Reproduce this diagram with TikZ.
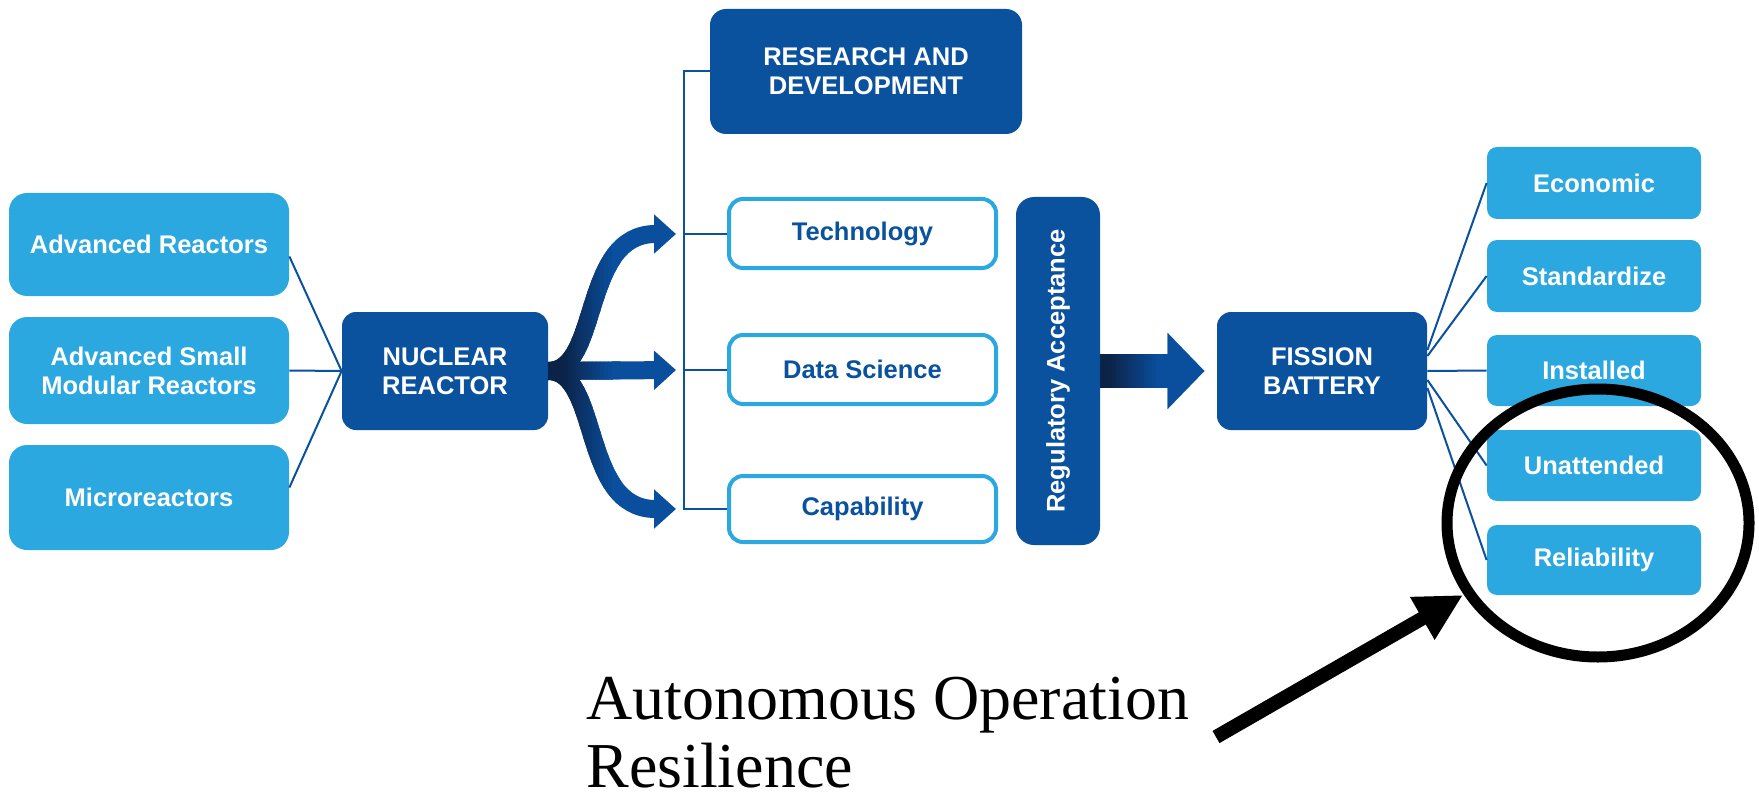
\documentclass[tikz,border=0pt]{standalone}
\usepackage{fontspec}
\setmainfont{Liberation Serif}
\newfontfamily\arialf{Liberation Sans}
\usetikzlibrary{arrows.meta,calc}
\definecolor{lb}{HTML}{2CA8E0}
\definecolor{db}{HTML}{0A519E}
\definecolor{nv}{HTML}{0B2347}
\definecolor{ab}{HTML}{0A4F9E}
\newcommand\bxfont{\arialf\bfseries\fontsize{12.75}{14.5}\selectfont}
\begin{document}
\begin{tikzpicture}[x=0.5pt,y=-0.5pt,
  lbox/.style={fill=lb, rounded corners=9pt, text=white, font=\bxfont, align=center, inner sep=0pt, minimum width=140pt},
  dbox/.style={fill=db, rounded corners=7pt, text=white, font=\bxfont, align=center, inner sep=0pt},
  obox/.style={draw=lb, line width=2pt, fill=white, rounded corners=7pt, text=db, font=\bxfont, inner sep=0pt, minimum width=133.5pt},
  rbox/.style={fill=lb, rounded corners=5pt, text=white, font=\bxfont, inner sep=0pt, minimum width=107pt},
  conn/.style={draw=db, line width=1pt},
  branch/.style={line width=9pt, -{Triangle[length=11pt,width=19pt]}},
  bigarr/.style={line width=17pt, -{Triangle[length=18.5pt,width=37pt]}, shorten >=6pt},
]
\useasboundingbox (0,0) rectangle (1759,802);
\fill[white] (0,0) rectangle (1759,802);

% left boxes
\node[lbox, minimum height=51.5pt] (ar) at (149,244.5) {Advanced Reactors};
\node[lbox, minimum height=53.5pt] (asmr) at (149,370.5) {Advanced Small\\Modular Reactors};
\node[lbox, minimum height=52.5pt] (micro) at (149,497.5) {Microreactors};
\node[dbox, minimum width=103pt, minimum height=59pt] (nr) at (445,371) {NUCLEAR\\REACTOR};

% middle column
\node[dbox, rounded corners=8pt, minimum width=156pt, minimum height=62.5pt] (rd) at (866,71.5) {RESEARCH AND\\DEVELOPMENT};
\node[obox, minimum height=34.5pt] (tech) at (862.5,233.5) {Technology};
\node[obox, minimum height=34.5pt] (data) at (862.5,369.5) {Data Science};
\node[obox, minimum height=33pt] (cap) at (862.5,509) {Capability};
\node[dbox, rounded corners=9pt, minimum width=42pt, minimum height=174pt] (reg) at (1058,371) {\rotatebox{90}{Regulatory Acceptance}};

% right
\node[dbox, minimum width=105pt, minimum height=59pt] (fb) at (1322,371) {FISSION\\BATTERY};
\node[rbox, minimum height=36pt] (econ) at (1594,183) {Economic};
\node[rbox, minimum height=36pt] (std) at (1594,276) {Standardize};
\node[rbox, minimum height=35.5pt] (inst) at (1594,370.5) {Installed};
\node[rbox, minimum height=35.5pt] (unat) at (1594,465.5) {Unattended};
\node[rbox, minimum height=35pt] (rel) at (1594,560) {Reliability};

% left connectors
\draw[conn] ($(ar.east)+(0,12)$) -- (nr.west);
\draw[conn] (asmr.east) -- (nr.west);
\draw[conn] ($(micro.east)+(0,-10)$) -- (nr.west);

% bracket
\coordinate (bx) at (684,0);
\draw[conn] (rd.west) -- (rd.west -| bx) -- (cap.west -| bx) -- (cap.west);
\draw[conn] (tech.west -| bx) -- (tech.west);
\draw[conn] (data.west -| bx) -- (data.west);

% right connectors
\draw[conn] ($(fb.east)+(0,-21)$) -- (econ.west);
\draw[conn] ($(fb.east)+(0,-15)$) -- (std.west);
\draw[conn] (fb.east) -- (inst.west);
\draw[conn] ($(fb.east)+(0,9)$) -- (unat.west);
\draw[conn] ($(fb.east)+(0,17)$) -- (rel.west);

% three-way arrow
\coordinate (t1) at (676,234);
\coordinate (t2) at (676,370);
\coordinate (t3) at (676,509);
\draw[branch, draw=ab] (nr.east) .. controls +(52,0) and +(-95,0) .. (t1);
\draw[branch, draw=ab] (nr.east) -- (t2);
\draw[branch, draw=ab] (nr.east) .. controls +(52,0) and +(-95,0) .. (t3);
\foreach \i in {0,...,17}{
  \pgfmathsetmacro\xa{548+4*\i}
  \pgfmathtruncatemacro\pc{max(0,min(100,100-2*(\xa-562)))}
  \begin{scope}
    \clip (\xa-0.5,150) rectangle (\xa+4.5,600);
    \draw[branch, draw=nv!\pc!ab] (nr.east) .. controls +(52,0) and +(-95,0) .. (t1);
    \draw[branch, draw=nv!\pc!ab] (nr.east) -- (t2);
    \draw[branch, draw=nv!\pc!ab] (nr.east) .. controls +(52,0) and +(-95,0) .. (t3);
  \end{scope}
}

% big arrow
\draw[bigarr, draw=ab] (reg.east) -- (fb.west);
\foreach \i in {0,...,16}{
  \pgfmathsetmacro\xa{1100+4*\i}
  \pgfmathtruncatemacro\pc{max(0,min(100,100-2*(\xa-1108)))}
  \begin{scope}
    \clip (\xa-0.5,300) rectangle (\xa+4.5,440);
    \draw[bigarr, draw=nv!\pc!ab] (reg.east) -- (fb.west);
  \end{scope}
}

% callout
\draw[line width=5.5pt] (1598,523) ellipse [x radius=75.5pt, y radius=67pt];
\node[anchor=base west, inner sep=0pt, text depth=0pt, align=left, font=\fontsize{32}{34}\selectfont] (note) at (586,787) {Autonomous Operation\\Resilience};
\coordinate (atail) at (1216,737);
\coordinate (atip) at (1463,595);
\draw[line width=7pt, -{Triangle[length=23.5pt,width=23pt]}] (atail) -- (atip);
\end{tikzpicture}
\end{document}
